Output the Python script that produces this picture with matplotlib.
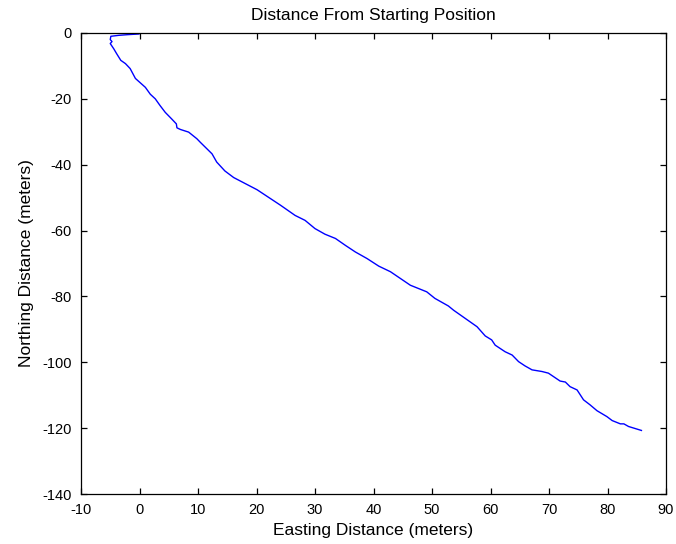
import numpy as np
import matplotlib
matplotlib.use("Agg")
import matplotlib.pyplot as plt

plt.rcParams['font.family'] = ['Liberation Sans', 'DejaVu Sans']
plt.rcParams['axes.unicode_minus'] = False

# Track relative to the starting position (meters)
easting = [-0.1, -2.0, -3.5, -4.9, -5.0, -4.7, -5.0, -4.7, -4.4, -3.9, -3.2, -2.4,
           -1.6, -0.7, 1.0, 1.85, 2.7, 3.5, 4.4, 5.5, 6.3, 6.4, 7.0, 8.4, 9.8,
           10.4, 12.4, 13.2, 14.6, 16.1, 20.1, 24.1, 26.6, 28.3, 30.0, 31.7, 33.5,
           35.2, 36.9, 38.9, 40.9, 42.9, 46.3, 49.1, 50.5, 52.8, 53.7, 56.5, 57.7,
           59.1, 60.2, 60.8, 62.5, 63.7, 64.8, 65.9, 67.1, 68.8, 69.9, 70.9, 71.9,
           72.8, 73.6, 74.8, 75.9, 77.0, 78.2, 79.9, 80.8, 82.2, 82.8, 83.6, 85.8]
northing = [-0.3, -0.5, -0.7, -1.0, -2.0, -2.6, -3.2, -4.0, -4.8, -6.3, -8.3, -9.3,
            -10.8, -13.8, -16.5, -18.6, -20.0, -22.0, -24.1, -26.1, -27.6, -28.8, -29.3, -30.1, -32.1,
            -33.2, -36.7, -39.2, -41.9, -43.9, -47.6, -52.3, -55.4, -56.9, -59.4, -61.1, -62.4,
            -64.5, -66.5, -68.5, -70.8, -72.5, -76.6, -78.6, -80.6, -82.9, -84.2, -87.7, -89.2,
            -92.0, -93.2, -94.8, -96.8, -97.8, -99.8, -101.1, -102.3, -102.8, -103.3, -104.5, -105.7,
            -106.0, -107.4, -108.4, -111.4, -112.9, -114.7, -116.5, -117.7, -118.7, -118.7, -119.5, -120.7]

xticks = np.arange(-10, 91, 10)
yticks = np.arange(-140, 1, 20)

fig = plt.figure(figsize=(6.76, 5.44), dpi=100)
ax = fig.add_axes([81 / 676, 50 / 544, 585 / 676, 461 / 544])

ax.plot(easting, northing, color=(0, 0, 1), lw=1.0)

ax.set_xlim(-10, 90)
ax.set_ylim(-140, 0)
ax.set_xticks(xticks)
ax.set_yticks(yticks)
ax.tick_params(direction='in', top=True, right=True, length=4.5, width=0.9,
               labelsize=10.5, pad=6.5)
for s in ax.spines.values():
    s.set_linewidth(0.9)

ax.set_title('Distance From Starting Position', fontsize=12.5, pad=9.5)
ax.set_xlabel('Easting Distance (meters)', fontsize=12.5, labelpad=4)
ax.set_ylabel('Northing Distance (meters)', fontsize=12.5, labelpad=6)

fig.savefig('out.png', dpi=100)
